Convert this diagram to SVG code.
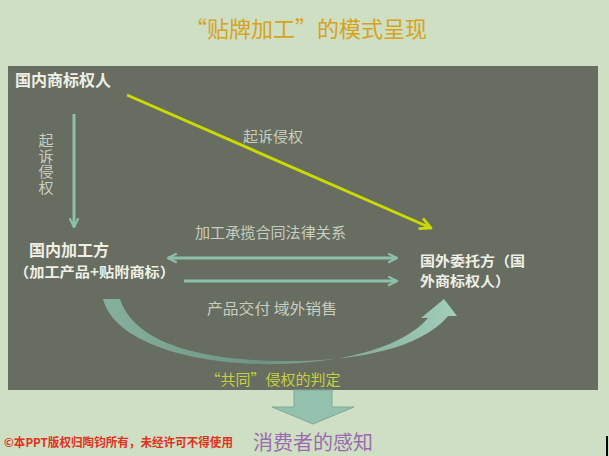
<svg xmlns="http://www.w3.org/2000/svg" width="609" height="456" viewBox="0 0 609 456">
<style>
text{font-family:"Noto Sans CJK SC","Noto Sans",sans-serif}
.lbl{fill:#C9CDBF;font-size:15px}
.node{fill:#EEF0E6;font-weight:bold}
.teal{stroke:#8EBFAA;stroke-width:3;fill:none}
</style>
<defs>
<marker id="chevT" viewBox="0 0 10 10" refX="9" refY="5" markerUnits="userSpaceOnUse" markerWidth="11" markerHeight="11" orient="auto-start-reverse">
<path d="M1,1 L9,5 L1,9" fill="none" stroke="#8EBFAA" stroke-width="2"/>
</marker>
<marker id="chevY" viewBox="0 0 10 10" refX="9" refY="5" markerUnits="userSpaceOnUse" markerWidth="14" markerHeight="14" orient="auto">
<path d="M1,1 L9,5 L1,9" fill="none" stroke="#CCDA00" stroke-width="2"/>
</marker>
<linearGradient id="curveG" x1="0" y1="0" x2="1" y2="0">
<stop offset="0" stop-color="#86B09D"/>
<stop offset="0.45" stop-color="#6F9383"/>
<stop offset="0.75" stop-color="#88B3A0"/>
<stop offset="1" stop-color="#A2CFBB"/>
</linearGradient>
</defs>
<rect x="0" y="0" width="609" height="456" fill="#CEDFC3"/>
<rect x="8" y="66" width="590" height="324" fill="#676D61"/>
<text x="306" y="37" text-anchor="middle" font-size="22" fill="#D6A31C">“贴牌加工”的模式呈现</text>

<g id="connectors">
<line x1="127" y1="95" x2="431" y2="228" stroke="#CCDA00" stroke-width="3" marker-end="url(#chevY)"/>
<line class="teal" x1="74" y1="114" x2="74" y2="227" stroke-width="4" marker-end="url(#chevT)"/>
<line class="teal" x1="168" y1="258" x2="397" y2="258" marker-start="url(#chevT)" marker-end="url(#chevT)"/>
<line class="teal" x1="184" y1="281" x2="397" y2="281" marker-end="url(#chevT)"/>
<path id="curve" d="M103,299 C115,345 200,366 280,364 C350,362 405,345 428,318 L421,318 L444,299 L457,316 L448,316 C420,350 350,362 280,361 C205,360 135,345 120,299 Z" fill="url(#curveG)"/>
<text class="lbl" x="46" y="133" font-size="14" writing-mode="vertical-rl" letter-spacing="0.5">起诉侵权</text>
<text class="lbl" x="243" y="142">起诉侵权</text>
<text class="lbl" x="195" y="238" textLength="151" lengthAdjust="spacingAndGlyphs">加工承揽合同法律关系</text>
<text class="lbl" x="207" y="314" textLength="130" lengthAdjust="spacingAndGlyphs">产品交付 域外销售</text>
<text x="273" y="385" text-anchor="middle" font-size="15" fill="#C8D040">“共同”侵权的判定</text>
</g>

<g id="domestic-owner">
<text class="node" x="15" y="86" font-size="16">国内商标权人</text>
</g>
<g id="domestic-processor">
<text class="node" x="29" y="256" font-size="16">国内加工方</text>
<text class="node" x="14" y="277" font-size="14" textLength="161" lengthAdjust="spacingAndGlyphs">（加工产品+贴附商标）</text>
</g>
<g id="foreign-client">
<text class="node" x="420" y="266" font-size="14" textLength="105" lengthAdjust="spacingAndGlyphs">国外委托方（国</text>
<text class="node" x="420" y="286" font-size="14" textLength="90" lengthAdjust="spacingAndGlyphs">外商标权人）</text>
</g>
<g id="down-arrow">
<polygon points="294,390 332,390 332,407 354,407 313,424 272,407 294,407" fill="#93C1AD" stroke="#7FA896" stroke-width="1"/>
</g>
<g id="consumer">
<text x="313" y="450" text-anchor="middle" font-size="20" fill="#9B6BB0">消费者的感知</text>
</g>
<text x="4" y="447" font-size="12" font-weight="bold" fill="#E0321E" textLength="229" lengthAdjust="spacingAndGlyphs">©本PPT版权归陶钧所有，未经许可不得使用</text>
<rect x="606" y="436" width="2" height="20" fill="#000"/>
</svg>
